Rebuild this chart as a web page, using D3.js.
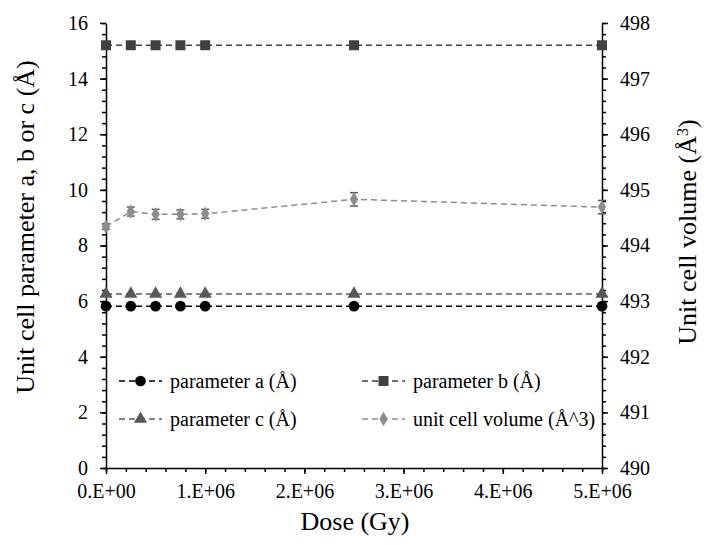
<!DOCTYPE html>
<html>
<head>
<meta charset="utf-8">
<script src="https://cdn.jsdelivr.net/npm/d3@7"></script>
<style>
  body { margin: 0; background: #fff; }
  svg text { font-family: "Liberation Serif", "Times New Roman", serif; }
</style>
</head>
<body>
<div id="chart"></div>
<script>
// dose values (Gy)
var doses = [0, 250000, 500000, 750000, 1000000, 2500000, 5000000];
var paramA = [5.82, 5.82, 5.82, 5.82, 5.82, 5.82, 5.82];
var paramB = [15.2, 15.2, 15.2, 15.2, 15.2, 15.2, 15.2];
var paramC = [6.26, 6.26, 6.26, 6.26, 6.26, 6.26, 6.26];
var volume = [494.34, 494.61, 494.56, 494.56, 494.57, 494.83, 494.69];
var volumeErr = [0.05, 0.08, 0.09, 0.08, 0.08, 0.12, 0.12];

var xTicks = [0, 1e6, 2e6, 3e6, 4e6, 5e6];
var leftTicks = [0, 2, 4, 6, 8, 10, 12, 14, 16];
var rightTicks = [490, 491, 492, 493, 494, 495, 496, 497, 498];

var width = 704, height = 545;
var plotL = 106, plotR = 602, plotT = 23, plotB = 468;

var svg = d3.select("#chart").append("svg")
  .attr("width", width)
  .attr("height", height);

var x = d3.scaleLinear().domain([0, 5e6]).range([plotL, plotR]);
var y = d3.scaleLinear().domain([0, 16]).range([plotB, plotT]);
var y2 = d3.scaleLinear().domain([490, 498]).range([plotB, plotT]);

function sciFmt(d) {
  return d === 0 ? "0.E+00" : (d / 1e6) + ".E+06";
}

// minor ticks
svg.append("g")
  .attr("transform", "translate(" + plotL + ",0)")
  .call(d3.axisLeft(y).tickValues(d3.range(0, 16.01, 0.4)).tickSize(4).tickFormat(""))
  .call(function(g) { g.select(".domain").remove(); });
svg.append("g")
  .attr("transform", "translate(" + plotR + ",0)")
  .call(d3.axisRight(y2).tickValues(d3.range(490, 498.01, 0.2)).tickSize(4).tickFormat(""))
  .call(function(g) { g.select(".domain").remove(); });
svg.append("g")
  .attr("transform", "translate(0," + plotB + ")")
  .call(d3.axisBottom(x).tickValues(d3.range(0, 5e6 + 1, 2e5)).tickSize(4).tickFormat(""))
  .call(function(g) { g.select(".domain").remove(); });

// major axes
svg.append("g")
  .attr("transform", "translate(" + plotL + ",0)")
  .call(d3.axisLeft(y).tickValues(leftTicks).tickSize(6).tickPadding(12).tickSizeOuter(0));
svg.append("g")
  .attr("transform", "translate(" + plotR + ",0)")
  .call(d3.axisRight(y2).tickValues(rightTicks).tickSize(6).tickPadding(12).tickSizeOuter(0));
svg.append("g")
  .attr("transform", "translate(0," + plotB + ")")
  .call(d3.axisBottom(x).tickValues(xTicks).tickFormat(sciFmt).tickSize(6).tickPadding(10).tickSizeOuter(0));

svg.selectAll(".tick line, .domain").attr("stroke", "#000").attr("stroke-width", 1.5);
svg.selectAll(".tick text").attr("font-size", 20).attr("fill", "#000")
  .style("font-family", "'Liberation Serif', serif");

// axis titles
svg.append("text")
  .attr("transform", "translate(34,227) rotate(-90)")
  .attr("text-anchor", "middle")
  .attr("font-size", 26)
  .text("Unit cell parameter a, b or c (Å)");

var rt = svg.append("text")
  .attr("transform", "translate(696,232) rotate(-90)")
  .attr("text-anchor", "middle")
  .attr("font-size", 26)
  .text("Unit cell volume (Å");
rt.append("tspan").attr("baseline-shift", "super").attr("font-size", 16).text("3");
rt.append("tspan").text(")");

svg.append("text")
  .attr("x", 355)
  .attr("y", 530)
  .attr("text-anchor", "middle")
  .attr("font-size", 26)
  .text("Dose (Gy)");

var series = [
  { name: "parameter a (Å)", values: paramA, axis: y, color: "#000000", symbol: d3.symbolCircle, size: 90 },
  { name: "parameter b (Å)", values: paramB, axis: y, color: "#404040", symbol: d3.symbolSquare, size: 100 },
  { name: "parameter c (Å)", values: paramC, axis: y, color: "#595959", symbol: d3.symbolTriangle, size: 75 },
  { name: "unit cell volume (Å^3)", values: volume, axis: y2, color: "#8c8c8c", symbol: d3.symbolDiamond, size: 60 }
];

// volume error bars
var eb = svg.append("g").attr("stroke", "#595959").attr("stroke-width", 1.5);
doses.forEach(function(d, i) {
  var yt = y2(volume[i] + volumeErr[i]), yb = y2(volume[i] - volumeErr[i]);
  eb.append("line").attr("x1", x(d)).attr("x2", x(d)).attr("y1", yt).attr("y2", yb);
  eb.append("line").attr("x1", x(d) - 4).attr("x2", x(d) + 4).attr("y1", yt).attr("y2", yt);
  eb.append("line").attr("x1", x(d) - 4).attr("x2", x(d) + 4).attr("y1", yb).attr("y2", yb);
});

series.forEach(function(s) {
  var line = d3.line()
    .x(function(d, i) { return x(doses[i]); })
    .y(function(d) { return s.axis(d); });
  svg.append("path")
    .datum(s.values)
    .attr("d", line)
    .attr("fill", "none")
    .attr("stroke", s.color)
    .attr("stroke-width", 1.5)
    .attr("stroke-dasharray", "6,4");
  svg.selectAll(null)
    .data(s.values)
    .enter()
    .append("path")
    .attr("d", d3.symbol().type(s.symbol).size(s.size))
    .attr("transform", function(d, i) { return "translate(" + x(doses[i]) + "," + s.axis(d) + ")"; })
    .attr("fill", s.color);
});

// legend
var legendPos = [[119, 381], [362, 381], [119, 419], [362, 419]];
series.forEach(function(s, k) {
  var p = legendPos[k];
  var g = svg.append("g").attr("transform", "translate(" + p[0] + "," + p[1] + ")");
  g.append("line").attr("x1", 0).attr("x2", 43).attr("y1", 0).attr("y2", 0)
    .attr("stroke", s.color).attr("stroke-width", 1.5).attr("stroke-dasharray", "6,4");
  g.append("path").attr("d", d3.symbol().type(s.symbol).size(s.size))
    .attr("transform", "translate(21.5,0)").attr("fill", s.color);
  g.append("text").attr("x", 51).attr("y", 7).attr("font-size", 20).text(s.name);
});
</script>
</body>
</html>
